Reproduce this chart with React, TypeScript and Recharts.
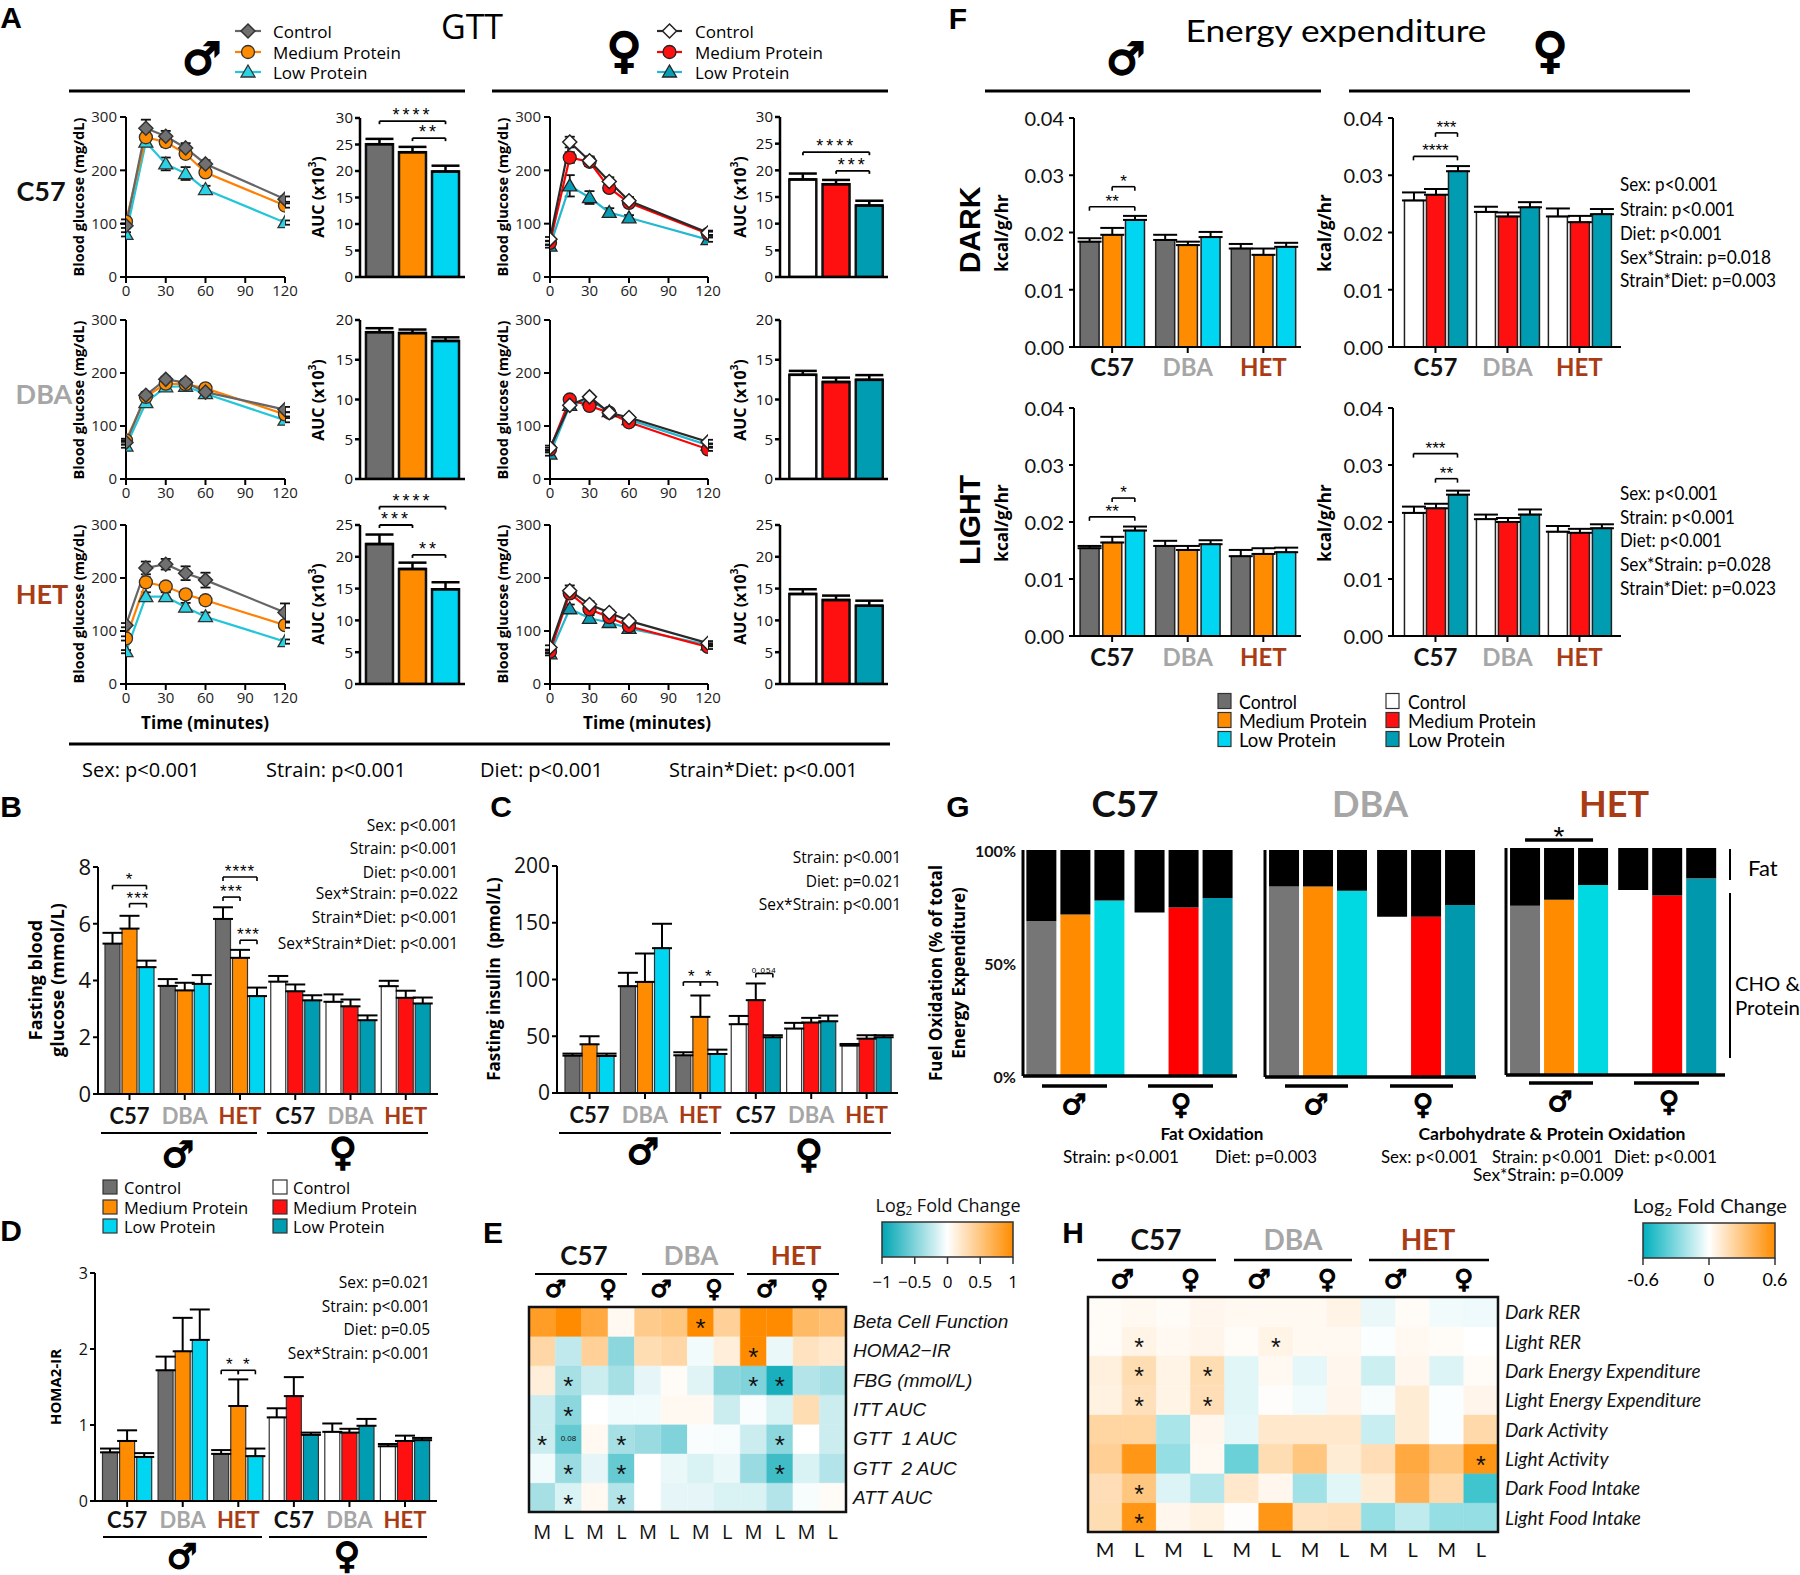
import React from 'react';
import { BarChart, Bar, LineChart, Line, XAxis, YAxis, ErrorBar, Cell, ReferenceLine, LabelList } from 'recharts';

// ---------------- fonts & colours ----------------
const SANS = '"Open Sans", "Noto Sans", "DejaVu Sans", sans-serif';
const LATO = 'Lato, "Open Sans", sans-serif';
const LIB = '"Liberation Sans", Arial, sans-serif';
const DJ = '"DejaVu Sans", sans-serif';

const MALE_FILLS = ['#6e6e6e', '#ff8c00', '#00d6f2'];
const FEMALE_FILLS = ['#ffffff', '#ff1010', '#009cb2'];
const FUEL_FILLS = ['#767676', '#ff8c00', '#00d8e2', '#ffffff', '#ff0000', '#0098ad'];
const STRAIN_COLOR: Record<string, string> = { C57: '#111111', DBA: '#a6a6a6', HET: '#a93c14' };

// ---------------- data: GTT ----------------
const TIMES = [0, 15, 30, 45, 60, 120];
const GTT_XTICKS = [0, 30, 60, 90, 120];
const GTT_YTICKS = [0, 100, 200, 300];

const gttC57MaleCtrl = [96, 279, 264, 242, 212, 146];
const gttC57MaleMed = [104, 262, 253, 231, 196, 134];
const gttC57MaleLow = [80, 253, 212, 194, 164, 102];
const gttC57MaleCtrlErr = [4, 16, 10, 9, 7, 5];
const gttC57MaleMedErr = [4, 9, 9, 8, 5, 4];
const gttC57MaleLowErr = [4, 8, 12, 12, 7, 4];

const gttDBAMaleCtrl = [69, 158, 188, 182, 164, 131];
const gttDBAMaleMed = [73, 155, 180, 179, 171, 122];
const gttDBAMaleLow = [62, 144, 174, 175, 161, 111];
const gttDBAMaleCtrlErr = [4, 6, 5, 4, 5, 5];
const gttDBAMaleMedErr = [3, 6, 5, 4, 4, 4];
const gttDBAMaleLowErr = [3, 5, 4, 4, 4, 4];

const gttHETMaleCtrl = [111, 219, 226, 209, 196, 135];
const gttHETMaleMed = [86, 192, 184, 169, 158, 111];
const gttHETMaleLow = [61, 165, 165, 145, 127, 80];
const gttHETMaleCtrlErr = [4, 12, 10, 13, 14, 17];
const gttHETMaleMedErr = [4, 9, 8, 8, 8, 5];
const gttHETMaleLowErr = [3, 8, 8, 8, 8, 4];

const gttC57FemCtrl = [71, 253, 218, 179, 143, 83];
const gttC57FemMed = [64, 224, 216, 167, 139, 81];
const gttC57FemLow = [58, 171, 149, 121, 111, 70];
const gttC57FemCtrlErr = [4, 10, 8, 8, 7, 4];
const gttC57FemMedErr = [4, 10, 8, 7, 6, 4];
const gttC57FemLowErr = [3, 20, 12, 8, 5, 4];

const gttDBAFemCtrl = [59, 139, 155, 125, 116, 70];
const gttDBAFemMed = [56, 150, 138, 125, 107, 56];
const gttDBAFemLow = [47, 139, 149, 127, 112, 64];
const gttDBAFemCtrlErr = [4, 5, 4, 4, 4, 4];
const gttDBAFemMedErr = [3, 5, 4, 3, 4, 3];
const gttDBAFemLowErr = [3, 5, 4, 4, 4, 3];

const gttHETFemCtrl = [69, 176, 150, 135, 119, 77];
const gttHETFemMed = [61, 171, 141, 126, 109, 70];
const gttHETFemLow = [57, 142, 124, 116, 105, 74];
const gttHETFemCtrlErr = [4, 10, 6, 5, 5, 4];
const gttHETFemMedErr = [3, 6, 6, 5, 5, 4];
const gttHETFemLowErr = [3, 8, 6, 5, 5, 3];

// AUC (x10^3)
const aucC57Male = [25.06, 23.55, 19.9];
const aucC57MaleErr = [1.0, 1.0, 1.1];
const aucDBAMale = [18.47, 18.35, 17.37];
const aucDBAMaleErr = [0.5, 0.45, 0.45];
const aucHETMale = [22.0, 18.08, 14.9];
const aucHETMaleErr = [1.5, 1.0, 1.1];
const aucC57Fem = [18.3, 17.4, 13.4];
const aucC57FemErr = [1.1, 0.8, 0.9];
const aucDBAFem = [13.1, 12.2, 12.47];
const aucDBAFemErr = [0.5, 0.55, 0.6];
const aucHETFem = [14.15, 13.2, 12.3];
const aucHETFemErr = [0.75, 0.7, 0.8];

// ---------------- data: B, C, D (male C57,DBA,HET then female C57,DBA,HET; Control, Medium, Low) ----------------
const STRAIN_LABELS6 = ['C57', 'DBA', 'HET', 'C57', 'DBA', 'HET'];
const STRAIN_LABELS3 = ['C57', 'DBA', 'HET'];
const fbg = [5.30, 5.83, 4.47, 3.81, 3.65, 3.88, 6.17, 4.80, 3.45, 3.96, 3.62, 3.30, 3.25, 3.09, 2.60, 3.80, 3.39, 3.19];
const fbgErr = [0.38, 0.45, 0.23, 0.24, 0.27, 0.31, 0.41, 0.28, 0.30, 0.20, 0.24, 0.18, 0.26, 0.24, 0.17, 0.19, 0.25, 0.21];
const insulin = [32.9, 42.9, 32.6, 94.1, 97.9, 127.6, 33.2, 67.1, 34.4, 60.6, 81.8, 49.1, 56.8, 62.1, 63.2, 41.8, 47.9, 49.1];
const insulinErr = [1.8, 7.1, 2.1, 11.8, 25, 21.5, 2.7, 18.8, 3.8, 7.3, 14.7, 1.8, 5, 4.1, 5, 1.4, 3, 1.8];
const homa = [0.64, 0.79, 0.58, 1.72, 1.97, 2.12, 0.62, 1.25, 0.59, 1.10, 1.38, 0.87, 0.91, 0.90, 0.99, 0.72, 0.79, 0.80];
const homaErr = [0.05, 0.14, 0.05, 0.18, 0.44, 0.40, 0.05, 0.35, 0.10, 0.12, 0.25, 0.03, 0.11, 0.05, 0.09, 0.03, 0.07, 0.03];

// ---------------- data: F energy expenditure ----------------
const eeDarkMale = [0.0184, 0.0196, 0.0222, 0.0187, 0.0178, 0.0192, 0.0172, 0.0161, 0.0175];
const eeDarkMaleErr = [0.0006, 0.0012, 0.0007, 0.0009, 0.0006, 0.0009, 0.0008, 0.0011, 0.0007];
const eeDarkFem = [0.0256, 0.0266, 0.0307, 0.0236, 0.0228, 0.0244, 0.0228, 0.0218, 0.0232];
const eeDarkFemErr = [0.0014, 0.0010, 0.0009, 0.0009, 0.0007, 0.0009, 0.0014, 0.0011, 0.0009];
const eeLightMale = [0.0154, 0.0164, 0.0185, 0.0158, 0.0151, 0.0161, 0.0140, 0.0144, 0.0147];
const eeLightMaleErr = [0.0004, 0.0010, 0.0007, 0.0009, 0.0007, 0.0007, 0.0011, 0.0010, 0.0008];
const eeLightFem = [0.0216, 0.0224, 0.0248, 0.0205, 0.0200, 0.0213, 0.0183, 0.0181, 0.0189];
const eeLightFemErr = [0.0011, 0.0008, 0.0007, 0.0008, 0.0007, 0.0009, 0.0010, 0.0007, 0.0007];
const EE_TICKS = [0, 0.01, 0.02, 0.03, 0.04];

// ---------------- data: G fuel oxidation (CHO & protein %, male C/M/L then female C/M/L) ----------------
const choC57 = [68.6, 71.5, 77.7, 72.4, 74.6, 78.8];
const choDBA = [83.9, 83.9, 82.0, 70.6, 70.6, 75.8];
const choHET = [74.6, 77.2, 83.7, 81.5, 79.1, 86.6];

// ---------------- data: E heatmap ----------------
const HEAT_COLS = ['M', 'L', 'M', 'L', 'M', 'L', 'M', 'L', 'M', 'L', 'M', 'L'];
const E_ROWS = ['Beta Cell Function', 'HOMA2\u2212IR', 'FBG (mmol/L)', 'ITT AUC', 'GTT  1 AUC', 'GTT  2 AUC', 'ATT AUC'];
const eBeta = [0.85, 1.0, 0.75, 0.05, 0.45, 0.5, 1.0, 0.4, 1.0, 1.0, 0.6, 0.55];
const eHoma = [0.35, -0.25, 0.4, -0.45, 0.3, 0.35, -0.05, 0.15, 1.0, -0.08, 0.25, 0.2];
const eFbg = [0.15, -0.35, -0.2, -0.35, -0.1, 0.03, -0.12, -0.45, -0.5, -0.9, -0.3, -0.35];
const eItt = [-0.2, -0.45, 0.0, -0.05, -0.05, 0.05, 0.05, -0.2, -0.02, -0.15, 0.3, -0.2];
const eGtt1 = [-0.2, -0.6, 0.05, -0.35, -0.4, -0.5, -0.02, -0.03, -0.2, -0.45, 0.0, -0.2];
const eGtt2 = [-0.05, -0.4, -0.1, -0.6, 0.0, -0.08, -0.15, -0.08, -0.4, -0.75, -0.15, -0.3];
const eAtt = [-0.35, -0.15, 0.05, -0.3, 0.0, -0.1, -0.1, -0.15, -0.15, -0.3, -0.03, 0.03];
const E_STARS = [[6], [8], [1, 8, 9], [1], [0, 3, 9], [1, 3, 9], [1, 3]];
const E_NOTE = [4, 1, '0.08'];

// ---------------- data: H heatmap ----------------
const H_ROWS = ['Dark RER', 'Light RER', 'Dark Energy Expenditure', 'Light Energy Expenditure', 'Dark Activity', 'Light Activity', 'Dark Food Intake', 'Light Food Intake'];
const hDarkRer = [0.02, 0.03, 0.02, 0.04, 0.03, 0.03, 0.03, 0.06, -0.05, 0.02, -0.03, -0.04];
const hLightRer = [0.02, 0.06, 0.03, 0.05, 0.02, 0.06, 0.03, 0.03, -0.01, 0.03, 0.02, 0.0];
const hDarkEe = [0.08, 0.18, 0.06, 0.18, -0.07, 0.03, -0.06, 0.04, -0.12, 0.04, -0.08, 0.02];
const hLightEe = [0.07, 0.16, 0.06, 0.17, -0.07, 0.01, -0.03, 0.05, -0.02, 0.1, -0.01, 0.05];
const hDarkAct = [0.22, 0.22, -0.2, 0.04, -0.06, 0.12, 0.12, 0.12, -0.13, 0.1, -0.01, 0.2];
const hLightAct = [0.25, 0.55, -0.25, 0.03, -0.35, 0.18, 0.3, 0.1, 0.17, 0.45, 0.3, 0.55];
const hDarkFood = [0.17, 0.3, -0.08, -0.18, 0.12, 0.04, -0.22, -0.07, 0.1, 0.4, 0.2, -0.45];
const hLightFood = [0.18, 0.55, 0.04, 0.07, 0.01, 0.55, 0.15, 0.16, -0.25, -0.15, -0.25, -0.25];
const H_STARS = [[], [1, 5], [1, 3], [1, 3], [], [11], [1], [1]];

// ---------------- helpers ----------------
const lerp = (a: number, b: number, t: number) => Math.round(a + (b - a) * t);
const divColor = (max: number, neg: number[], pos: number[]) => (v: number) => {
  const t = Math.max(-1, Math.min(1, v / max));
  const e = t < 0 ? neg : pos;
  const k = Math.abs(t);
  return `rgb(${lerp(255, e[0], k)},${lerp(255, e[1], k)},${lerp(255, e[2], k)})`;
};
const eColor = divColor(1, [0, 166, 180], [255, 140, 0]);
const hColor = divColor(0.6, [0, 176, 190], [255, 140, 0]);

const shapeEl = (shape: string, cx: number, cy: number, fill: string, stroke: string, key?: any) => {
  if (shape === 'diamond') return <polygon key={key} points={`${cx},${cy - 7} ${cx + 7},${cy} ${cx},${cy + 7} ${cx - 7},${cy}`} fill={fill} stroke={stroke} strokeWidth={1.5} />;
  if (shape === 'tri') return <polygon key={key} points={`${cx},${cy - 7} ${cx + 7},${cy + 5} ${cx - 7},${cy + 5}`} fill={fill} stroke={stroke} strokeWidth={1.3} />;
  return <circle key={key} cx={cx} cy={cy} r={6.5} fill={fill} stroke={stroke} strokeWidth={1.3} />;
};
const mkDot = (shape: string, fill: string, stroke: string) => (p: any) => {
  const { cx, cy, index } = p;
  if (cx == null || cy == null || isNaN(cx) || isNaN(cy)) return <g key={`e${index}`} />;
  return shapeEl(shape, cx, cy, fill, stroke, `d${index}`);
};

const GTT_M = { ctrlLine: '#666666', ctrl: '#707070', medLine: '#ff8000', med: '#ff8c00', lowLine: '#22c6d8', low: '#2ad2e4', edge: '#333' };
const GTT_F = { ctrlLine: '#2a2a2a', ctrl: '#ffffff', medLine: '#ff0000', med: '#ff1010', lowLine: '#22b8d0', low: '#0a9cb4', edge: '#222' };

function Gtt({ plot, ctrl, med, low, ctrlE, medE, lowE, female }: any) {
  const YW = 50, XH = 30, MT = 16, MR = 14;
  const rows = TIMES.map((t, i) => ({ t, c: ctrl[i], m: med[i], l: low[i], ce: ctrlE[i], me: medE[i], le: lowE[i] }));
  const W = YW + plot.w + MR, H = MT + plot.h + XH;
  const st = female ? GTT_F : GTT_M;
  const ax = { stroke: '#000', strokeWidth: 2 };
  const tk = { fontSize: 15, fill: '#222', fontFamily: SANS };
  return (
    <div style={{ position: 'absolute', left: plot.x - YW, top: plot.y - MT, width: W, height: H }}>
      <LineChart width={W} height={H} data={rows} margin={{ top: MT, right: MR, bottom: 0, left: 0 }}>
        <XAxis dataKey="t" type="number" domain={[0, 120]} ticks={GTT_XTICKS} allowDataOverflow height={XH} axisLine={ax} tickLine={ax} tickSize={6} tickMargin={2} tick={tk} interval={0} />
        <YAxis type="number" domain={[0, 300]} ticks={GTT_YTICKS} allowDataOverflow width={YW} axisLine={ax} tickLine={ax} tickSize={6} tickMargin={3} tick={tk} interval={0} />
        <Line dataKey="l" stroke={st.lowLine} strokeWidth={2.2} dot={mkDot('tri', st.low, st.edge)} activeDot={false} isAnimationActive={false}>
          <ErrorBar dataKey="le" direction="y" width={5} stroke="#111" strokeWidth={1.8} />
        </Line>
        <Line dataKey="m" stroke={st.medLine} strokeWidth={2.2} dot={mkDot('circle', st.med, st.edge)} activeDot={false} isAnimationActive={false}>
          <ErrorBar dataKey="me" direction="y" width={5} stroke="#111" strokeWidth={1.8} />
        </Line>
        <Line dataKey="c" stroke={st.ctrlLine} strokeWidth={2.2} dot={mkDot('diamond', st.ctrl, st.edge)} activeDot={false} isAnimationActive={false}>
          <ErrorBar dataKey="ce" direction="y" width={5} stroke="#111" strokeWidth={1.8} />
        </Line>
      </LineChart>
    </div>
  );
}

const StrainTick = ({ x, y, payload, ticks, labels, size, dy = 12 }: any) => {
  const i = ticks.findIndex((t: number) => Math.abs(t - payload.value) < 1e-6);
  const lab = labels[i] || '';
  return (
    <text x={x} y={y + dy} textAnchor="middle" dominantBaseline="central"
      fontSize={size} fontWeight={700} fontFamily={LATO} fill={STRAIN_COLOR[lab] || '#000'}>{lab}</text>
  );
};

const bracketEls = (key: string, x1: number, x2: number, y: number, dy: number, txt: string, size: number, fam: string, space: number, sw = 1.6) => [
  <ReferenceLine key={key + 'h'} segment={[{ x: x1, y }, { x: x2, y }]} stroke="#000" strokeWidth={sw} ifOverflow="visible"
    label={{ value: txt, position: 'top', fontSize: size, fill: '#000', fontFamily: fam, offset: 0, letterSpacing: space }} />,
  <ReferenceLine key={key + 'l'} segment={[{ x: x1, y }, { x: x1, y: y - dy }]} stroke="#000" strokeWidth={sw} ifOverflow="visible" />,
  <ReferenceLine key={key + 'r'} segment={[{ x: x2, y }, { x: x2, y: y - dy }]} stroke="#000" strokeWidth={sw} ifOverflow="visible" />,
];

function BarPanel(p: any) {
  const {
    plot, vals, errs, fillFor, G = 3.25, lo, hi, ymax, yticks, yTick,
    barSize, labels, brackets = [], yw = 40, xh = 40, mt = 46, mr = 6,
    barStroke = '#333', barStrokeW = 1.2, capW = 10, errW = 2, axisW = 2,
    labSize = 22, labDy = 13, starSize = 17, starFam = LIB, starSpace = 1, dyPx = 4, yTickSize = 5, yTickMargin = 2, bw = 1.6,
  } = p;
  const rows = vals.map((v: number, i: number) => ({ x: Math.floor(i / 3) * G + (i % 3), v, e: [0, errs[i]] }));
  const nG = Math.ceil(vals.length / 3);
  const gticks = Array.from({ length: nG }, (_, g) => g * G + 1);
  const W = yw + plot.w + mr, H = mt + plot.h + xh;
  const dy = (dyPx * ymax) / plot.h;
  const ax = { stroke: '#000', strokeWidth: axisW };
  return (
    <div style={{ position: 'absolute', left: plot.x - yw, top: plot.y - mt, width: W, height: H }}>
      <BarChart width={W} height={H} data={rows} margin={{ top: mt, right: mr, bottom: 0, left: 0 }}>
        <XAxis dataKey="x" type="number" domain={[lo, hi]} ticks={gticks} allowDataOverflow height={xh} axisLine={ax}
          tickLine={labels ? ax : false} tickSize={labels ? 6 : 0} interval={0}
          tick={labels ? (q: any) => <StrainTick key={`t${q.index}`} {...q} ticks={gticks} labels={labels} size={labSize} dy={labDy} /> : false} />
        <YAxis type="number" domain={[0, ymax]} ticks={yticks} allowDataOverflow width={yw} axisLine={ax} tickLine={ax}
          tickSize={yTickSize} tickMargin={yTickMargin} interval={0} tick={yTick} />
        <Bar dataKey="v" barSize={barSize} isAnimationActive={false} stroke={barStroke} strokeWidth={barStrokeW}>
          {rows.map((r: any, i: number) => <Cell key={i} fill={fillFor(i)} />)}
          <ErrorBar dataKey="e" direction="y" width={capW} stroke="#000" strokeWidth={errW} />
        </Bar>
        {brackets.flatMap((b: any, k: number) => bracketEls(`b${k}`, rows[b[0]].x, rows[b[1]].x, b[2], dy, b[3], b[4] || starSize, starFam, starSpace, bw))}
      </BarChart>
    </div>
  );
}

const sansTick = (s: number) => ({ fontSize: s, fill: '#111', fontFamily: SANS });
const eeTick = (q: any) => (
  <text key={`y${q.index}`} x={q.x} y={q.y} textAnchor="end" dominantBaseline="central"
    fontSize={20} fontFamily={LATO} fill="#111">{Number(q.payload.value).toFixed(2)}</text>
);
const fuelTick = (q: any) => (
  <text key={`f${q.index}`} x={q.x} y={q.y} textAnchor="end" dominantBaseline="central"
    fontSize={16} fontWeight={700} fontFamily={LATO} fill="#111">{`${q.payload.value}%`}</text>
);

const FUEL_SEX_OFFSET = 3.18;
function Fuel({ plot, cho, lo, hi, yw, showTicks, bracket }: any) {
  const MT = 34, XH = 14, MR = 2;
  const rows = cho.map((v: number, i: number) => ({ x: (i % 3) + (i >= 3 ? FUEL_SEX_OFFSET : 0), cho: v, fat: 100 - v }));
  const W = yw + plot.w + MR, H = MT + plot.h + XH;
  return (
    <div style={{ position: 'absolute', left: plot.x - yw, top: plot.y - MT, width: W, height: H }}>
      <BarChart width={W} height={H} data={rows} margin={{ top: MT, right: MR, bottom: 0, left: 0 }}>
        <XAxis dataKey="x" type="number" domain={[lo, hi]} ticks={rows.map((r: any) => r.x)} allowDataOverflow height={XH}
          axisLine={{ stroke: '#000', strokeWidth: 3.5 }} tickLine={false} tick={false} />
        <YAxis type="number" domain={[0, 100]} ticks={[0, 50, 100]} allowDataOverflow width={yw}
          axisLine={{ stroke: '#000', strokeWidth: 3 }} tickLine={false} tickSize={0} tickMargin={7} interval={0}
          tick={showTicks ? fuelTick : false} />
        <Bar dataKey="cho" stackId="s" barSize={30} isAnimationActive={false}>
          {rows.map((r: any, i: number) => <Cell key={i} fill={FUEL_FILLS[i]} />)}
        </Bar>
        <Bar dataKey="fat" stackId="s" barSize={30} fill="#000" isAnimationActive={false} />
        {bracket ? (
          <ReferenceLine segment={[{ x: rows[bracket[0]].x, y: bracket[2] }, { x: rows[bracket[1]].x, y: bracket[2] }]} stroke="#000" strokeWidth={3.5}
            ifOverflow="visible" label={{ value: bracket[3], position: 'top', fontSize: 28, fill: '#000', fontFamily: LIB, offset: -6 }} />
        ) : null}
      </BarChart>
    </div>
  );
}

const cellMark = (q: any, stars: number[], note: any, starSize: number) => {
  const { x, y, width, height, index } = q;
  if (x == null || y == null) return null;
  const cx = Number(x) + Number(width) / 2;
  const cy = Number(y) + Number(height) / 2;
  if (note && note[1] === index) {
    return <text key={`n${index}`} x={cx} y={cy} fontSize={8} textAnchor="middle" dominantBaseline="central" fontFamily={LIB} fill="#111">{note[2]}</text>;
  }
  if (!stars.includes(index)) return null;
  return <text key={`s${index}`} x={cx} y={cy + starSize * 0.24} fontSize={starSize} textAnchor="middle" dominantBaseline="central" fontFamily={LIB} fill="#111">*</text>;
};

function Heatmap({ plot, rows, names, stars, note, colorFn, rowTick, colTick, starSize }: any) {
  const nR = rows.length;
  const table = HEAT_COLS.map((_, ci) => {
    const o: any = { c: ci };
    for (let k = 0; k < nR; k++) o['r' + k] = 1;
    return o;
  });
  const RW = 260, XH = 38;
  const W = plot.w + RW, H = plot.h + XH;
  const rticks = Array.from({ length: nR }, (_, k) => k + 0.5);
  return (
    <div style={{ position: 'absolute', left: plot.x, top: plot.y, width: W, height: H }}>
      <BarChart width={W} height={H} data={table} margin={{ top: 0, right: 0, bottom: 0, left: 0 }} barCategoryGap={0} barGap={0}>
        <XAxis dataKey="c" type="category" height={XH} axisLine={false} tickLine={false} tickSize={0} tickMargin={3} interval={0}
          tick={(q: any) => colTick(q, HEAT_COLS[Number(q.payload.value)])} />
        <YAxis yAxisId="r" orientation="right" type="number" domain={[0, nR]} ticks={rticks} allowDataOverflow width={RW}
          axisLine={false} tickLine={false} tickSize={0} tickMargin={7} interval={0}
          tick={(q: any) => rowTick(q, names[nR - 1 - Math.floor(q.payload.value)])} />
        {Array.from({ length: nR }, (_, k) => {
          const r = nR - 1 - k;
          return (
            <Bar key={k} yAxisId="r" dataKey={'r' + k} stackId="h" isAnimationActive={false}>
              {table.map((_: any, ci: number) => <Cell key={ci} fill={colorFn(rows[r][ci])} stroke={colorFn(rows[r][ci])} strokeWidth={0.6} />)}
              <LabelList dataKey={'r' + k} content={(q: any) => cellMark(q, stars[r], note && note[0] === r ? note : null, starSize)} />
            </Bar>
          );
        })}
      </BarChart>
    </div>
  );
}

const eRowTick = (q: any, name: string) => (
  <text key={`r${q.index}`} x={q.x} y={q.y} textAnchor="start" dominantBaseline="central" fontSize={19} fontStyle="italic"
    fontFamily={LIB} fill="#111" style={{ whiteSpace: 'pre' }}>{name}</text>
);
const eColTick = (q: any, name: string) => (
  <text key={`c${q.index}`} x={q.x} y={q.y + 16} textAnchor="middle" dominantBaseline="central" fontSize={20} fontFamily={SANS} fill="#111">{name}</text>
);
const hRowTick = (q: any, name: string) => (
  <text key={`r${q.index}`} x={q.x} y={q.y} textAnchor="start" dominantBaseline="central" fontSize={19}
    fontStyle="italic" fontFamily={LATO} fill="#111">{name}</text>
);
const hColTick = (q: any, name: string) => (
  <text key={`c${q.index}`} x={q.x} y={q.y + 14} textAnchor="middle" dominantBaseline="central" fontSize={20}
    fontFamily={LATO} fill="#111">{name}</text>
);

// ---------------- overlay text helpers ----------------
const TX = ({ x, y, s, a = 'start', w = 400, f = SANS, c = '#000', r = 0, it = false, len, children }: any) => (
  <text x={x} y={y} fontSize={s} textAnchor={a} fontWeight={w} fontFamily={f} fill={c}
    fontStyle={it ? 'italic' : 'normal'} dominantBaseline="central"
    transform={r ? `rotate(${r} ${x} ${y})` : undefined}
    textLength={len} lengthAdjust={len ? 'spacingAndGlyphs' : undefined}
    style={{ whiteSpace: 'pre' }}>{children}</text>
);
const Sym = ({ x, y, s, male }: any) => (
  <text x={x} y={y} textAnchor="middle" dominantBaseline="central" fontSize={s}
    fontWeight={700} fontFamily={DJ} fill="#000" stroke="#000" strokeWidth={s / 22}>{male ? '\u2642' : '\u2640'}</text>
);
const HL = ({ x1, x2, y, w = 2.5 }: any) => <line x1={x1} x2={x2} y1={y} y2={y} stroke="#000" strokeWidth={w} />;
const VL = ({ x, y1, y2, w = 2 }: any) => <line x1={x} x2={x} y1={y1} y2={y2} stroke="#000" strokeWidth={w} />;

const LEGEND_NAMES = ['Control', 'Medium Protein', 'Low Protein'];
const A_STATS = ['Sex: p<0.001', 'Strain: p<0.001', 'Diet: p<0.001', 'Strain*Diet: p<0.001'];
const B_STATS = ['Sex: p<0.001', 'Strain: p<0.001', 'Diet: p<0.001', 'Sex*Strain: p=0.022', 'Strain*Diet: p<0.001', 'Sex*Strain*Diet: p<0.001'];
const C_STATS = ['Strain: p<0.001', 'Diet: p=0.021', 'Sex*Strain: p<0.001'];
const D_STATS = ['Sex: p=0.021', 'Strain: p<0.001', 'Diet: p=0.05', 'Sex*Strain: p<0.001'];
const F_DARK_STATS = ['Sex: p<0.001', 'Strain: p<0.001', 'Diet: p<0.001', 'Sex*Strain: p=0.018', 'Strain*Diet: p=0.003'];
const F_LIGHT_STATS = ['Sex: p<0.001', 'Strain: p<0.001', 'Diet: p<0.001', 'Sex*Strain: p=0.028', 'Strain*Diet: p=0.023'];

function SubLog({ x, y, s, f, len }: any) {
  return (
    <text x={x} y={y} fontSize={s} fontFamily={f} textAnchor="middle" dominantBaseline="central" fill="#111"
      textLength={len} lengthAdjust={len ? 'spacingAndGlyphs' : undefined}>
      Log<tspan fontSize={s * 0.65} dy={s * 0.3}>2</tspan><tspan dy={-s * 0.3}>{'  Fold Change'}</tspan>
    </text>
  );
}

// heatmap plot rectangles (shared by chart and overlay frame)
const E_PLOT = { x: 529, y: 1307, w: 317, h: 205 };
const H_PLOT = { x: 1088, y: 1297, w: 410, h: 235 };

function Overlay() {
  const gtY = [197, 400, 604];
  const legM = [
    { y: 31, shape: 'diamond', line: GTT_M.ctrlLine, fill: GTT_M.ctrl },
    { y: 52, shape: 'circle', line: GTT_M.medLine, fill: GTT_M.med },
    { y: 72, shape: 'tri', line: GTT_M.lowLine, fill: GTT_M.low },
  ];
  const legF = [
    { y: 31, shape: 'diamond', line: GTT_F.ctrlLine, fill: GTT_F.ctrl },
    { y: 52, shape: 'circle', line: GTT_F.medLine, fill: GTT_F.med },
    { y: 72, shape: 'tri', line: GTT_F.lowLine, fill: GTT_F.low },
  ];
  const ePair = (j: number) => E_PLOT.x + (E_PLOT.w / 12) * (2 * j + 1);
  const hPair = (j: number) => H_PLOT.x + (H_PLOT.w / 12) * (2 * j + 1);
  return (
    <svg width={1800} height={1575} style={{ position: 'absolute', left: 0, top: 0, pointerEvents: 'none' }}>
      <defs>
        <linearGradient id="gE" x1="0" x2="1" y1="0" y2="0">
          {Array.from({ length: 9 }, (_, i) => <stop key={i} offset={`${(i / 8) * 100}%`} stopColor={eColor(-1 + (2 * i) / 8)} />)}
        </linearGradient>
        <linearGradient id="gH" x1="0" x2="1" y1="0" y2="0">
          {Array.from({ length: 9 }, (_, i) => <stop key={i} offset={`${(i / 8) * 100}%`} stopColor={hColor(-0.6 + (1.2 * i) / 8)} />)}
        </linearGradient>
      </defs>

      {/* ---------- Panel A ---------- */}
      <TX x={11} y={17} s={30} w={700} f={LIB} a="middle">A</TX>
      <TX x={472} y={26} s={34} a="middle">GTT</TX>
      <Sym x={202} y={58} s={44} male />
      {legM.map((l, i) => (
        <g key={i}>
          <line x1={235} x2={261} y1={l.y} y2={l.y} stroke={l.line} strokeWidth={2.2} />
          {shapeEl(l.shape, 248, l.y, l.fill, '#333')}
          <TX x={273} y={l.y} s={17}>{LEGEND_NAMES[i]}</TX>
        </g>
      ))}
      <Sym x={624} y={50} s={48} />
      {legF.map((l, i) => (
        <g key={i}>
          <line x1={657} x2={682} y1={l.y} y2={l.y} stroke={l.line} strokeWidth={2.2} />
          {shapeEl(l.shape, 669.5, l.y, l.fill, '#222')}
          <TX x={695} y={l.y} s={17}>{LEGEND_NAMES[i]}</TX>
        </g>
      ))}
      <HL x1={69} x2={465} y={91} w={3} />
      <HL x1={492} x2={888} y={91} w={3} />
      <TX x={41} y={190} s={27} w={700} f={LATO} a="middle" c={STRAIN_COLOR.C57}>C57</TX>
      <TX x={44} y={393} s={27} w={700} f={LATO} a="middle" c={STRAIN_COLOR.DBA}>DBA</TX>
      <TX x={42} y={593} s={27} w={700} f={LATO} a="middle" c={STRAIN_COLOR.HET}>HET</TX>
      {gtY.map((y, i) => (
        <g key={i}>
          <TX x={78} y={y} s={14.5} w={700} a="middle" r={-90}>Blood glucose (mg/dL)</TX>
          <TX x={502} y={y} s={14.5} w={700} a="middle" r={-90}>Blood glucose (mg/dL)</TX>
          {[318, 740].map((xx) => (
            <text key={xx} x={xx} y={y} fontSize={16} fontWeight={700} fontFamily={SANS} textAnchor="middle" dominantBaseline="central" transform={`rotate(-90 ${xx} ${y})`}>
              AUC (x10<tspan fontSize={10} dy={-6}>3</tspan><tspan dy={6}>)</tspan>
            </text>
          ))}
        </g>
      ))}
      <TX x={205} y={722} s={17} w={700} a="middle">Time (minutes)</TX>
      <TX x={647} y={722} s={17} w={700} a="middle">Time (minutes)</TX>
      <HL x1={69} x2={890} y={744} w={3} />
      {[82, 266, 480, 669].map((x, i) => <TX key={i} x={x} y={769} s={20}>{A_STATS[i]}</TX>)}

      {/* ---------- Panel B ---------- */}
      <TX x={11} y={806} s={30} w={700} f={LIB} a="middle">B</TX>
      <TX x={35} y={980} s={18} w={700} a="middle" r={-90}>Fasting blood</TX>
      <TX x={57} y={980} s={18} w={700} a="middle" r={-90}>glucose (mmol/L)</TX>
      {[825, 848, 872, 893, 917, 943].map((y, i) => <TX key={i} x={458} y={y} s={15.5} a="end">{B_STATS[i]}</TX>)}
      <HL x1={101} x2={257} y={1133} w={2} />
      <HL x1={267} x2={428} y={1133} w={2} />
      <Sym x={178} y={1154} s={36} male />
      <Sym x={343} y={1152} s={38} />
      {[1187, 1207, 1226].map((y, i) => (
        <g key={i}>
          <rect x={103} y={y - 7} width={14} height={14} fill={MALE_FILLS[i]} stroke="#333" strokeWidth={1.2} />
          <TX x={124} y={y} s={16.5}>{LEGEND_NAMES[i]}</TX>
          <rect x={273} y={y - 7} width={14} height={14} fill={FEMALE_FILLS[i]} stroke="#333" strokeWidth={1.2} />
          <TX x={293} y={y} s={16.5}>{LEGEND_NAMES[i]}</TX>
        </g>
      ))}

      {/* ---------- Panel C ---------- */}
      <TX x={501} y={806} s={30} w={700} f={LIB} a="middle">C</TX>
      <TX x={493} y={979} s={17} w={700} a="middle" r={-90}>Fasting insulin  (pmol/L)</TX>
      {[857, 881, 904].map((y, i) => <TX key={i} x={901} y={y} s={15.5} a="end">{C_STATS[i]}</TX>)}
      <HL x1={559} x2={721} y={1133} w={2} />
      <HL x1={730} x2={891} y={1133} w={2} />
      <Sym x={643} y={1151} s={36} male />
      <Sym x={809} y={1154} s={38} />

      {/* ---------- Panel D ---------- */}
      <TX x={11} y={1230} s={30} w={700} f={LIB} a="middle">D</TX>
      <TX x={55} y={1387} s={15} w={700} a="middle" r={-90}>HOMA2-IR</TX>
      {[1282, 1306, 1329, 1353].map((y, i) => <TX key={i} x={430} y={y} s={15.5} a="end">{D_STATS[i]}</TX>)}
      <HL x1={103} x2={262} y={1537} w={2} />
      <HL x1={269} x2={427} y={1537} w={2} />
      <Sym x={182} y={1556} s={34} male />
      <Sym x={347} y={1555} s={36} />

      {/* ---------- Panel E ---------- */}
      <TX x={493} y={1232} s={30} w={700} f={LIB} a="middle">E</TX>
      <TX x={584} y={1255} s={26} w={700} f={LATO} a="middle" c={STRAIN_COLOR.C57}>C57</TX>
      <TX x={691} y={1255} s={26} w={700} f={LATO} a="middle" c={STRAIN_COLOR.DBA}>DBA</TX>
      <TX x={796} y={1255} s={26} w={700} f={LATO} a="middle" c={STRAIN_COLOR.HET}>HET</TX>
      <HL x1={535} x2={627} y={1274} w={2} />
      <HL x1={642} x2={734} y={1274} w={2} />
      <HL x1={747} x2={839} y={1274} w={2} />
      {[0, 1, 2, 3, 4, 5].map((j) => <Sym key={j} x={ePair(j)} y={1289} s={24} male={j % 2 === 0} />)}
      <rect x={E_PLOT.x} y={E_PLOT.y} width={E_PLOT.w} height={E_PLOT.h} fill="none" stroke="#111" strokeWidth={2.5} />
      <SubLog x={948} y={1205} s={18} f={SANS} />
      <rect x={882} y={1222} width={131} height={35} fill="url(#gE)" stroke="#333" strokeWidth={1.5} />
      {[-1, -0.5, 0, 0.5, 1].map((v, i) => {
        const x = 882 + ((v + 1) / 2) * 131;
        return (
          <g key={i}>
            <line x1={x} x2={x} y1={1257} y2={1264} stroke="#333" strokeWidth={1.5} />
            <TX x={x} y={1281} s={17} a="middle">{v < 0 ? `\u2212${Math.abs(v)}` : `${v}`}</TX>
          </g>
        );
      })}

      {/* ---------- Panel F ---------- */}
      <TX x={958} y={18} s={30} w={700} f={LIB} a="middle">F</TX>
      <TX x={1336} y={30} s={31} f={LATO} a="middle" len={301}>Energy expenditure</TX>
      <Sym x={1126} y={58} s={44} male />
      <Sym x={1550} y={50} s={48} />
      <HL x1={985} x2={1321} y={91} w={3} />
      <HL x1={1349} x2={1690} y={91} w={3} />
      <TX x={969} y={230} s={30} w={700} f={LIB} a="middle" r={-90}>DARK</TX>
      <TX x={969} y={520} s={30} w={700} f={LIB} a="middle" r={-90}>LIGHT</TX>
      {[[1001, 233], [1324, 233], [1001, 523], [1324, 523]].map(([x, y], i) => (
        <TX key={i} x={x} y={y} s={17} w={700} f={SANS} a="middle" r={-90}>kcal/g/hr</TX>
      ))}
      {[183, 208, 232, 256, 279].map((y, i) => <TX key={i} x={1620} y={y} s={19} f={LATO} len={[98, 115, 102, 151, 156][i]}>{F_DARK_STATS[i]}</TX>)}
      {[492, 516, 539, 563, 587].map((y, i) => <TX key={i} x={1620} y={y} s={19} f={LATO} len={[98, 115, 102, 151, 156][i]}>{F_LIGHT_STATS[i]}</TX>)}
      {[701, 720, 739].map((y, i) => (
        <g key={i}>
          <rect x={1218} y={y - 7.5} width={13} height={15} fill={MALE_FILLS[i]} stroke="#333" strokeWidth={1.2} />
          <TX x={1239} y={y} s={19} f={LATO} len={[58, 128, 97][i]}>{LEGEND_NAMES[i]}</TX>
          <rect x={1386} y={y - 7.5} width={13} height={15} fill={FEMALE_FILLS[i]} stroke="#333" strokeWidth={1.2} />
          <TX x={1408} y={y} s={19} f={LATO} len={[58, 128, 97][i]}>{LEGEND_NAMES[i]}</TX>
        </g>
      ))}

      {/* ---------- Panel G ---------- */}
      <TX x={958} y={806} s={30} w={700} f={LIB} a="middle">G</TX>
      <TX x={1125} y={802} s={37} w={700} f={LATO} a="middle" c={STRAIN_COLOR.C57} len={67}>C57</TX>
      <TX x={1370} y={802} s={37} w={700} f={LATO} a="middle" c={STRAIN_COLOR.DBA} len={76}>DBA</TX>
      <TX x={1614} y={802} s={37} w={700} f={LATO} a="middle" c={STRAIN_COLOR.HET} len={70}>HET</TX>
      <TX x={935} y={973} s={17} w={700} f={SANS} a="middle" r={-90}>Fuel Oxidation (% of total</TX>
      <TX x={958} y={973} s={17} w={700} f={SANS} a="middle" r={-90}>Energy Expenditure)</TX>
      {[[1042, 1107, 1086], [1148, 1213, 1086], [1285, 1348, 1086], [1390, 1453, 1086], [1529, 1593, 1083], [1634, 1699, 1083]].map(([a, b, y], i) => (
        <HL key={i} x1={a} x2={b} y={y} w={3.5} />
      ))}
      {[[1074, 1104, 1], [1181, 1104, 0], [1316, 1104, 1], [1423, 1104, 0], [1560, 1101, 1], [1669, 1101, 0]].map(([x, y, m], i) => (
        <Sym key={i} x={x} y={y} s={28} male={m === 1} />
      ))}
      <TX x={1748} y={867} s={22} f={LATO}>Fat</TX>
      <VL x={1730} y1={849} y2={880} />
      <VL x={1730} y1={893} y2={1058} />
      <TX x={1735} y={983} s={20} f={LATO} len={65}>CHO &amp;</TX>
      <TX x={1735} y={1007} s={20} f={LATO} len={65}>Protein</TX>
      <TX x={1212} y={1133} s={17} w={700} f={LATO} a="middle" len={103}>Fat Oxidation</TX>
      <TX x={1552} y={1133} s={17} w={700} f={LATO} a="middle" len={267}>Carbohydrate &amp; Protein Oxidation</TX>
      <TX x={1063} y={1156} s={17} f={LATO} len={116}>Strain: p&lt;0.001</TX>
      <TX x={1215} y={1156} s={17} f={LATO} len={102}>Diet: p=0.003</TX>
      <TX x={1381} y={1156} s={17} f={LATO} len={97}>Sex: p&lt;0.001</TX>
      <TX x={1492} y={1156} s={17} f={LATO} len={111}>Strain: p&lt;0.001</TX>
      <TX x={1614} y={1156} s={17} f={LATO} len={103}>Diet: p&lt;0.001</TX>
      <TX x={1473} y={1174} s={17} f={LATO} len={151}>Sex*Strain: p=0.009</TX>

      {/* ---------- Panel H ---------- */}
      <TX x={1073} y={1232} s={30} w={700} f={LIB} a="middle">H</TX>
      <TX x={1156} y={1239} s={28} w={700} f={LATO} a="middle" c={STRAIN_COLOR.C57}>C57</TX>
      <TX x={1293} y={1239} s={28} w={700} f={LATO} a="middle" c={STRAIN_COLOR.DBA}>DBA</TX>
      <TX x={1428} y={1239} s={28} w={700} f={LATO} a="middle" c={STRAIN_COLOR.HET}>HET</TX>
      <HL x1={1097} x2={1216} y={1260} w={2.5} />
      <HL x1={1234} x2={1352} y={1260} w={2.5} />
      <HL x1={1369} x2={1489} y={1260} w={2.5} />
      {[0, 1, 2, 3, 4, 5].map((j) => <Sym key={j} x={hPair(j)} y={1279} s={26} male={j % 2 === 0} />)}
      <rect x={H_PLOT.x} y={H_PLOT.y} width={H_PLOT.w} height={H_PLOT.h} fill="none" stroke="#111" strokeWidth={2.5} />
      <SubLog x={1710} y={1205} s={19} f={LATO} len={154} />
      <rect x={1643} y={1223} width={132} height={35} fill="url(#gH)" stroke="#333" strokeWidth={1.5} />
      {[-0.6, 0, 0.6].map((v, i) => {
        const x = 1643 + ((v + 0.6) / 1.2) * 132;
        return (
          <g key={i}>
            <line x1={x} x2={x} y1={1258} y2={1265} stroke="#333" strokeWidth={1.5} />
            <TX x={x} y={1279} s={18} f={LATO} a="middle">{`${v}`}</TX>
          </g>
        );
      })}
    </svg>
  );
}

// ---------------- App ----------------
const AUC30 = [0, 5, 10, 15, 20, 25, 30];
const AUC20 = [0, 5, 10, 15, 20];
const AUC25 = [0, 5, 10, 15, 20, 25];
const sexFill = (i: number) => (i < 9 ? MALE_FILLS[i % 3] : FEMALE_FILLS[i % 3]);
const maleFill = (i: number) => MALE_FILLS[i % 3];
const femFill = (i: number) => FEMALE_FILLS[i % 3];

export default function App() {
  const aucCommon = { barSize: 27, barStroke: '#111', barStrokeW: 2.5, capW: 14, errW: 2.5, axisW: 2.5, yw: 34, xh: 14, yTick: sansTick(15), starSize: 18, starSpace: 3, dyPx: 3, bw: 1.8 };
  const aucM = { lo: -0.59, hi: 2.59, fillFor: maleFill };
  const aucF = { lo: -0.69, hi: 2.56, fillFor: femFill };
  const grp = { barSize: 15, G: 3.25, labels: STRAIN_LABELS6, yw: 40, xh: 40, labSize: 22, labDy: 13, capW: 10, errW: 2, starSize: 17, starSpace: 1, dyPx: 4 };
  const fCommon = { barSize: 19, labels: STRAIN_LABELS3, yw: 60, xh: 40, labSize: 24, labDy: 11, capW: 12, errW: 2, barStroke: '#222', barStrokeW: 1.5, ymax: 0.04, yticks: EE_TICKS, yTick: eeTick, starSize: 17, starSpace: 0, dyPx: 4, yTickSize: 5, yTickMargin: 5 };
  return (
    <div style={{ position: 'absolute', left: 0, top: 0, width: 1800, height: 1575, background: '#fff', overflow: 'hidden', fontFamily: SANS }}>
      <style>{'body{margin:0;background:#fff}'}</style>

      {/* A: GTT curves */}
      <Gtt plot={{ x: 126, y: 117, w: 159, h: 160 }} ctrl={gttC57MaleCtrl} med={gttC57MaleMed} low={gttC57MaleLow} ctrlE={gttC57MaleCtrlErr} medE={gttC57MaleMedErr} lowE={gttC57MaleLowErr} />
      <Gtt plot={{ x: 126, y: 320, w: 159, h: 159 }} ctrl={gttDBAMaleCtrl} med={gttDBAMaleMed} low={gttDBAMaleLow} ctrlE={gttDBAMaleCtrlErr} medE={gttDBAMaleMedErr} lowE={gttDBAMaleLowErr} />
      <Gtt plot={{ x: 126, y: 525, w: 159, h: 159 }} ctrl={gttHETMaleCtrl} med={gttHETMaleMed} low={gttHETMaleLow} ctrlE={gttHETMaleCtrlErr} medE={gttHETMaleMedErr} lowE={gttHETMaleLowErr} />
      <Gtt female plot={{ x: 550, y: 117, w: 158, h: 160 }} ctrl={gttC57FemCtrl} med={gttC57FemMed} low={gttC57FemLow} ctrlE={gttC57FemCtrlErr} medE={gttC57FemMedErr} lowE={gttC57FemLowErr} />
      <Gtt female plot={{ x: 550, y: 320, w: 158, h: 159 }} ctrl={gttDBAFemCtrl} med={gttDBAFemMed} low={gttDBAFemLow} ctrlE={gttDBAFemCtrlErr} medE={gttDBAFemMedErr} lowE={gttDBAFemLowErr} />
      <Gtt female plot={{ x: 550, y: 525, w: 158, h: 159 }} ctrl={gttHETFemCtrl} med={gttHETFemMed} low={gttHETFemLow} ctrlE={gttHETFemCtrlErr} medE={gttHETFemMedErr} lowE={gttHETFemLowErr} />

      {/* A: AUC bars */}
      <BarPanel {...aucCommon} {...aucM} plot={{ x: 360, y: 118, w: 105, h: 159 }} vals={aucC57Male} errs={aucC57MaleErr} ymax={30} yticks={AUC30}
        brackets={[[0, 2, 29.4, '****'], [1, 2, 26.2, '**']]} />
      <BarPanel {...aucCommon} {...aucM} plot={{ x: 360, y: 320, w: 105, h: 159 }} vals={aucDBAMale} errs={aucDBAMaleErr} ymax={20} yticks={AUC20} />
      <BarPanel {...aucCommon} {...aucM} plot={{ x: 360, y: 525, w: 105, h: 159 }} vals={aucHETMale} errs={aucHETMaleErr} ymax={25} yticks={AUC25}
        brackets={[[0, 2, 27.9, '****'], [0, 1, 25.0, '***'], [1, 2, 20.3, '**']]} />
      <BarPanel {...aucCommon} {...aucF} plot={{ x: 780, y: 117, w: 108, h: 160 }} vals={aucC57Fem} errs={aucC57FemErr} ymax={30} yticks={AUC30}
        brackets={[[0, 2, 23.4, '****'], [1, 2, 19.9, '***']]} />
      <BarPanel {...aucCommon} {...aucF} plot={{ x: 780, y: 320, w: 108, h: 159 }} vals={aucDBAFem} errs={aucDBAFemErr} ymax={20} yticks={AUC20} />
      <BarPanel {...aucCommon} {...aucF} plot={{ x: 780, y: 525, w: 108, h: 159 }} vals={aucHETFem} errs={aucHETFemErr} ymax={25} yticks={AUC25} />

      {/* B */}
      <BarPanel {...grp} plot={{ x: 98, y: 867, w: 340, h: 227 }} vals={fbg} errs={fbgErr} fillFor={sexFill} lo={-0.853} hi={19.147}
        ymax={8} yticks={[0, 2, 4, 6, 8]} yTick={sansTick(22)}
        brackets={[[0, 2, 7.35, '*'], [1, 2, 6.71, '***'], [6, 8, 7.65, '****'], [6, 7, 6.94, '***'], [7, 8, 5.42, '***']]} />
      {/* C */}
      <BarPanel {...grp} plot={{ x: 557, y: 866, w: 341, h: 227 }} vals={insulin} errs={insulinErr} fillFor={sexFill} lo={-0.91} hi={19.09}
        ymax={200} yticks={[0, 50, 100, 150, 200]} yTick={sansTick(21)} yw={48}
        brackets={[[6, 7, 97.9, '*'], [7, 8, 97.9, '*'], [10, 11, 105.3, '0.054', 8]]} />
      {/* D */}
      <BarPanel {...grp} plot={{ x: 95, y: 1273, w: 342, h: 228 }} vals={homa} errs={homaErr} fillFor={sexFill} lo={-0.88} hi={19.12}
        ymax={3} yticks={[0, 1, 2, 3]} yTick={sansTick(16)} labDy={10}
        brackets={[[6, 7, 1.72, '*'], [7, 8, 1.72, '*']]} />

      {/* F */}
      <BarPanel {...fCommon} plot={{ x: 1074, y: 118, w: 227, h: 229 }} vals={eeDarkMale} errs={eeDarkMaleErr} fillFor={maleFill} G={3.33} lo={-0.68} hi={9.32}
        brackets={[[0, 2, 0.0245, '**'], [1, 2, 0.028, '*']]} />
      <BarPanel {...fCommon} plot={{ x: 1393, y: 118, w: 228, h: 229 }} vals={eeDarkFem} errs={eeDarkFemErr} fillFor={femFill} G={3.27} lo={-0.93} hi={9.43}
        brackets={[[0, 2, 0.0333, '****'], [1, 2, 0.0374, '***']]} />
      <BarPanel {...fCommon} plot={{ x: 1074, y: 408, w: 227, h: 228 }} vals={eeLightMale} errs={eeLightMaleErr} fillFor={maleFill} G={3.33} lo={-0.68} hi={9.32}
        labDy={12} brackets={[[0, 2, 0.0209, '**'], [1, 2, 0.0242, '*']]} />
      <BarPanel {...fCommon} plot={{ x: 1393, y: 408, w: 228, h: 228 }} vals={eeLightFem} errs={eeLightFemErr} fillFor={femFill} G={3.27} lo={-0.93} hi={9.43}
        labDy={12} brackets={[[0, 2, 0.032, '***'], [1, 2, 0.0276, '**']]} />

      {/* G */}
      <Fuel plot={{ x: 1023, y: 850, w: 214, h: 226 }} cho={choC57} lo={-0.54} hi={5.75} yw={60} showTicks />
      <Fuel plot={{ x: 1265, y: 850, w: 211, h: 227 }} cho={choDBA} lo={-0.56} hi={5.65} yw={2} />
      <Fuel plot={{ x: 1506, y: 848, w: 219, h: 227 }} cho={choHET} lo={-0.56} hi={5.88} yw={2} bracket={[0, 2, 103.5, '*']} />

      {/* E */}
      <Heatmap plot={E_PLOT} rows={[eBeta, eHoma, eFbg, eItt, eGtt1, eGtt2, eAtt]} names={E_ROWS}
        stars={E_STARS} note={E_NOTE} colorFn={eColor} rowTick={eRowTick} colTick={eColTick} starSize={26} />
      {/* H */}
      <Heatmap plot={H_PLOT} rows={[hDarkRer, hLightRer, hDarkEe, hLightEe, hDarkAct, hLightAct, hDarkFood, hLightFood]} names={H_ROWS}
        stars={H_STARS} note={null} colorFn={hColor} rowTick={hRowTick} colTick={hColTick} starSize={25} />

      <Overlay />
    </div>
  );
}
